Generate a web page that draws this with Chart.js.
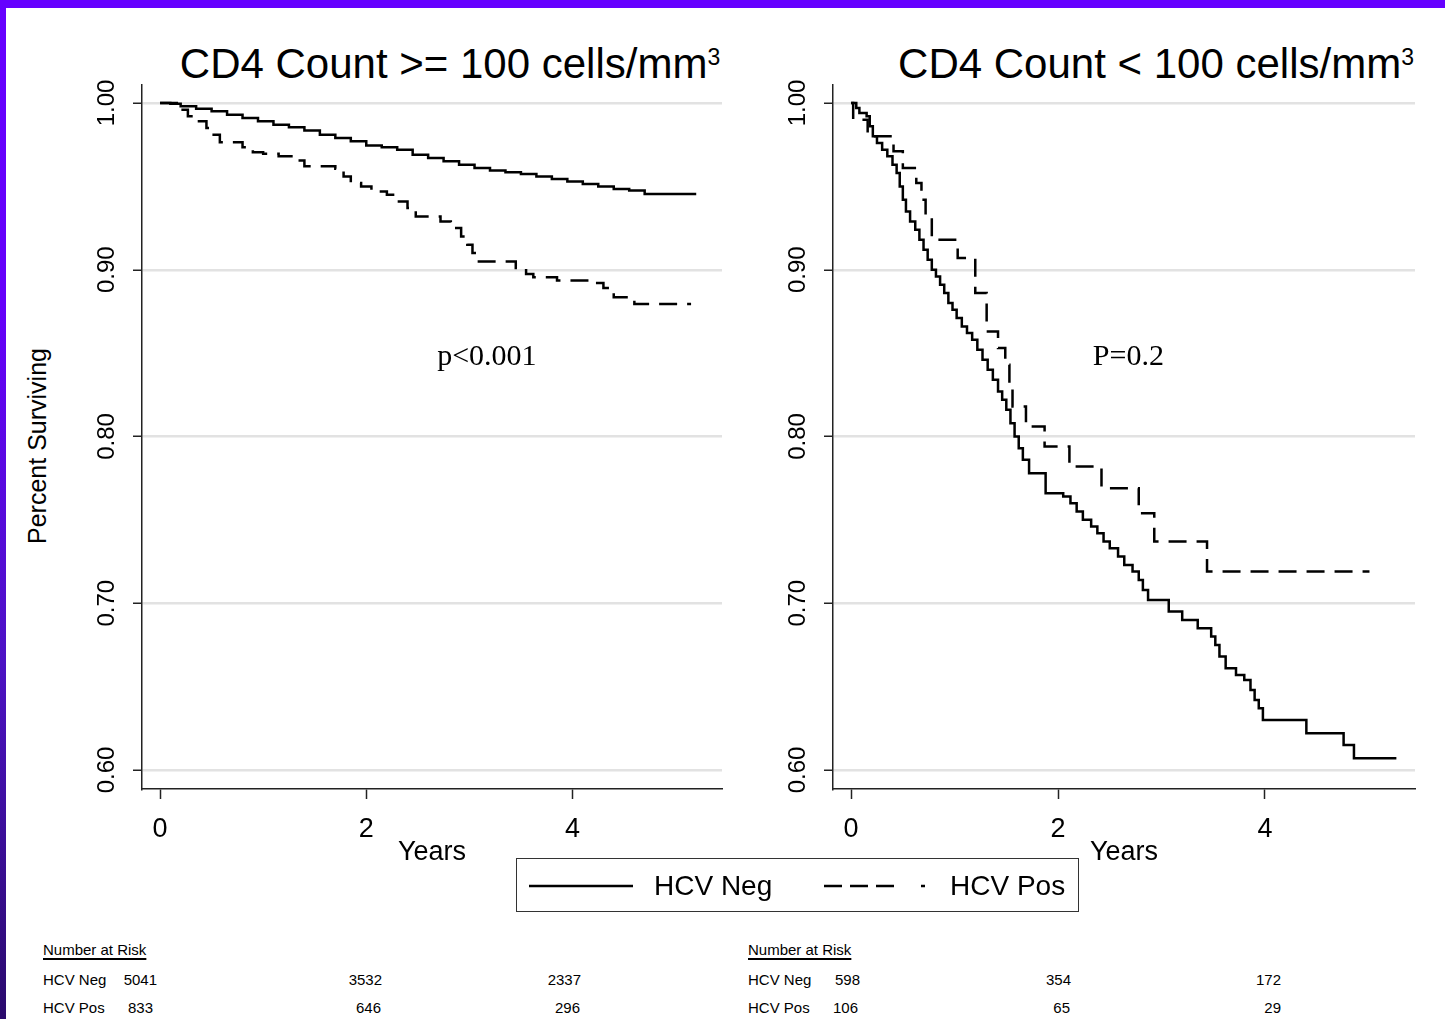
<!DOCTYPE html>
<html>
<head>
<meta charset="utf-8">
<script src="https://cdn.jsdelivr.net/npm/chart.js@4.4.1/dist/chart.umd.min.js"></script>
<style>
  body { margin:0; width:1445px; height:1019px; background:#fff; position:relative; overflow:hidden;
         font-family:"Liberation Sans", Arial, sans-serif; color:#000; }
  #topbar { position:absolute; left:0; top:0; width:1445px; height:8px; background:#6600ff; }
  #leftbar { position:absolute; left:0; top:0; width:6px; height:1019px;
             background:linear-gradient(#6600ff 0%, #6500fa 30%, #4c12c4 65%, #2a0a6c 100%); }
  .abs { position:absolute; white-space:nowrap; }
  .title { font-size:42px; line-height:42px; text-align:center; width:700px; }
  .title span { font-size:23px; position:relative; top:-13px; }
  .risk { font-size:15px; line-height:15px; }
  .num { width:100px; text-align:right; }
  canvas { position:absolute; }
</style>
</head>
<body>
<div id="topbar"></div>
<div id="leftbar"></div>

<div class="abs title" style="left:100px; top:43px;">CD4 Count &gt;= 100 cells/mm<span>3</span></div>
<div class="abs title" style="left:806px; top:43px;">CD4 Count &lt; 100 cells/mm<span>3</span></div>
<div class="abs" style="left:37px; top:446px; font-size:25px; transform:translate(-50%,-50%) rotate(-90deg);">Percent Surviving</div>

<canvas id="leftChart" width="670" height="799" style="left:62px; top:70px;"></canvas>
<canvas id="rightChart" width="672" height="799" style="left:753px; top:70px;"></canvas>

<div class="abs" style="left:516px; top:858px; width:561px; height:52px; border:1.5px solid #333;">
  <svg class="abs" style="left:12px; top:0;" width="110" height="52"><line x1="0" y1="27" x2="104" y2="27" stroke="#000" stroke-width="2.4"/></svg>
  <div class="abs" id="legNeg" style="left:137px; top:11px; font-size:28px; line-height:32px;"></div>
  <svg class="abs" style="left:307px; top:0;" width="110" height="52"><line x1="0" y1="27" x2="101" y2="27" stroke="#000" stroke-width="2.4" stroke-dasharray="18 8 18 8 18 27 4 100"/></svg>
  <div class="abs" id="legPos" style="left:433px; top:11px; font-size:28px; line-height:32px;"></div>
</div>

<div id="tables"></div>

<script>
// survival curves: time in years, proportion surviving
const leftNegTime = [0, 0.1, 0.2, 0.35, 0.5, 0.65, 0.8, 0.95, 1.1, 1.25, 1.4, 1.55, 1.7, 1.85, 2.0, 2.15, 2.3, 2.45, 2.6, 2.75, 2.9, 3.05, 3.2, 3.35, 3.5, 3.65, 3.8, 3.95, 4.1, 4.25, 4.4, 4.55, 4.7, 5.2];
const leftNegSurv = [1.0, 0.9995, 0.998, 0.9965, 0.995, 0.993, 0.991, 0.989, 0.987, 0.9855, 0.9835, 0.981, 0.979, 0.977, 0.9745, 0.9735, 0.972, 0.969, 0.967, 0.965, 0.963, 0.961, 0.9595, 0.9585, 0.9575, 0.956, 0.9545, 0.953, 0.9515, 0.950, 0.9485, 0.9475, 0.9455, 0.9455];

const leftPosTime = [0, 0.2, 0.27, 0.32, 0.45, 0.52, 0.58, 0.8, 0.9, 1.0, 1.15, 1.3, 1.4, 1.7, 1.78, 1.85, 1.95, 2.05, 2.2, 2.3, 2.4, 2.48, 2.72, 2.82, 2.92, 2.98, 3.03, 3.08, 3.45, 3.55, 3.62, 3.85, 4.18, 4.3, 4.4, 4.6, 5.15];
const leftPosSurv = [1.0, 0.996, 0.992, 0.989, 0.985, 0.981, 0.9765, 0.9735, 0.9705, 0.9695, 0.968, 0.9655, 0.962, 0.9605, 0.956, 0.952, 0.950, 0.947, 0.945, 0.941, 0.937, 0.932, 0.929, 0.925, 0.920, 0.915, 0.910, 0.905, 0.901, 0.8975, 0.8955, 0.8935, 0.892, 0.889, 0.8835, 0.8795, 0.8795];

const rightNegTime = [0, 0.05, 0.08, 0.15, 0.18, 0.21, 0.25, 0.3, 0.35, 0.4, 0.44, 0.47, 0.5, 0.53, 0.57, 0.62, 0.66, 0.7, 0.74, 0.78, 0.82, 0.86, 0.9, 0.94, 0.98, 1.02, 1.07, 1.12, 1.17, 1.22, 1.27, 1.32, 1.37, 1.42, 1.46, 1.5, 1.54, 1.58, 1.62, 1.66, 1.72, 1.88, 2.05, 2.12, 2.18, 2.24, 2.32, 2.38, 2.44, 2.5, 2.58, 2.64, 2.72, 2.78, 2.82, 2.87, 3.07, 3.2, 3.35, 3.48, 3.52, 3.56, 3.62, 3.72, 3.8, 3.86, 3.9, 3.94, 3.98, 4.4, 4.76, 4.86, 5.27];
const rightNegSurv = [1.0, 0.997, 0.994, 0.992, 0.986, 0.980, 0.976, 0.972, 0.968, 0.963, 0.958, 0.950, 0.942, 0.935, 0.929, 0.924, 0.918, 0.912, 0.906, 0.900, 0.896, 0.891, 0.886, 0.880, 0.876, 0.871, 0.866, 0.862, 0.858, 0.852, 0.846, 0.840, 0.834, 0.827, 0.822, 0.816, 0.808, 0.800, 0.793, 0.786, 0.778, 0.766, 0.764, 0.760, 0.755, 0.750, 0.746, 0.742, 0.737, 0.733, 0.728, 0.723, 0.719, 0.714, 0.708, 0.702, 0.695, 0.690, 0.685, 0.680, 0.675, 0.668, 0.661, 0.657, 0.654, 0.648, 0.642, 0.637, 0.630, 0.622, 0.615, 0.607, 0.607];

const rightPosTime = [0, 0.02, 0.16, 0.41, 0.5, 0.63, 0.68, 0.72, 0.78, 1.03, 1.2, 1.31, 1.42, 1.49, 1.53, 1.56, 1.69, 1.87, 2.11, 2.42, 2.78, 2.93, 3.44, 5.01];
const rightPosSurv = [1.0, 0.990, 0.980, 0.971, 0.961, 0.952, 0.942, 0.932, 0.918, 0.907, 0.886, 0.863, 0.853, 0.843, 0.830, 0.818, 0.806, 0.794, 0.782, 0.769, 0.754, 0.737, 0.719, 0.719];

const seriesNames = ['HCV Neg', 'HCV Pos'];
const yTicks = [0.6, 0.7, 0.8, 0.9, 1.0];
const yTickLabels = ['0.60', '0.70', '0.80', '0.90', '1.00'];
const xTicks = [0, 2, 4];

// number at risk at years 0, 2, 4
const riskLabels = ['HCV Neg', 'HCV Pos'];
const leftRiskNeg = [5041, 3532, 2337];
const leftRiskPos = [833, 646, 296];
const rightRiskNeg = [598, 354, 172];
const rightRiskPos = [106, 65, 29];

const pLabels = ['p<0.001', 'P=0.2'];

const FONT = '"Liberation Sans", Arial, sans-serif';

document.getElementById('legNeg').textContent = seriesNames[0];
document.getElementById('legPos').textContent = seriesNames[1];

function pts(t, s) {
  return t.map((v, i) => ({ x: v, y: s[i] }));
}

const rotatedYLabels = {
  id: 'rotatedYLabels',
  afterDraw(chart) {
    const ctx = chart.ctx;
    const y = chart.scales.y;
    ctx.save();
    ctx.font = '24px ' + FONT;
    ctx.fillStyle = '#000';
    ctx.textAlign = 'center';
    ctx.textBaseline = 'middle';
    yTicks.forEach((v, i) => {
      ctx.save();
      ctx.translate(chart.chartArea.left - 35, y.getPixelForValue(v));
      ctx.rotate(-Math.PI / 2);
      ctx.fillText(yTickLabels[i], 0, 0);
      ctx.restore();
    });
    ctx.restore();
  }
};

const pValueText = {
  id: 'pValueText',
  afterDatasetsDraw(chart, args, opts) {
    const ctx = chart.ctx;
    ctx.save();
    ctx.font = '30px "Liberation Serif", "Times New Roman", serif';
    ctx.fillStyle = '#000';
    ctx.textAlign = 'center';
    ctx.textBaseline = 'middle';
    ctx.fillText(opts.text, chart.scales.x.getPixelForValue(opts.x), chart.scales.y.getPixelForValue(opts.y));
    ctx.restore();
  }
};

function makeChart(id, negT, negS, posT, posS, pText, pX) {
  return new Chart(document.getElementById(id), {
    type: 'line',
    data: {
      datasets: [
        { label: seriesNames[0], data: pts(negT, negS), borderColor: '#000', borderWidth: 2.5,
          stepped: true, pointRadius: 0, fill: false },
        { label: seriesNames[1], data: pts(posT, posS), borderColor: '#000', borderWidth: 2.5,
          borderDash: [18, 10], stepped: true, pointRadius: 0, fill: false }
      ]
    },
    options: {
      responsive: false,
      devicePixelRatio: 1,
      animation: false,
      layout: { padding: { top: 15, right: 10, left: 0, bottom: 0 } },
      plugins: {
        legend: { display: false },
        tooltip: { enabled: false },
        pValueText: { text: pText, x: pX, y: 0.8477 }
      },
      scales: {
        x: {
          type: 'linear',
          min: -0.175, max: 5.45,
          afterBuildTicks: s => { s.ticks = xTicks.map(v => ({ value: v })); },
          afterFit: s => { s.height = 80; },
          grid: { drawOnChartArea: false, drawTicks: true, tickLength: 10, tickColor: '#222', tickWidth: 1.5 },
          border: { display: true, color: '#222', width: 1.5 },
          ticks: { font: { size: 27, family: FONT }, color: '#000', padding: 14, maxRotation: 0 },
          title: { display: true, text: 'Years', font: { size: 27, family: FONT }, color: '#000', padding: { top: 0, bottom: 0 } }
        },
        y: {
          type: 'linear',
          min: 0.5886, max: 1.0108,
          afterBuildTicks: s => { s.ticks = yTicks.map(v => ({ value: v })); },
          afterFit: s => { s.width = 80; },
          grid: { color: '#e2e2e2', lineWidth: 2.5, drawTicks: true, tickLength: 9, tickColor: '#222', tickWidth: 1.5 },
          border: { display: true, color: '#222', width: 1.5 },
          ticks: { display: false }
        }
      }
    },
    plugins: [rotatedYLabels, pValueText]
  });
}

makeChart('leftChart', leftNegTime, leftNegSurv, leftPosTime, leftPosSurv, pLabels[0], 3.17);
makeChart('rightChart', rightNegTime, rightNegSurv, rightPosTime, rightPosSurv, pLabels[1], 2.68);

// number at risk tables
function riskTable(left, colEdges, negVals, posVals) {
  let html = '<div class="abs risk" style="left:' + left + 'px; top:942px; text-decoration:underline; text-decoration-thickness:2px; text-underline-offset:3px;">Number at Risk</div>';
  [negVals, posVals].forEach((vals, r) => {
    const top = 972 + r * 28;
    html += '<div class="abs risk" style="left:' + left + 'px; top:' + top + 'px;">' + riskLabels[r] + '</div>';
    vals.forEach((v, c) => {
      html += '<div class="abs risk num" style="left:' + (colEdges[r][c] - 100) + 'px; top:' + top + 'px;">' + v + '</div>';
    });
  });
  return html;
}
document.getElementById('tables').innerHTML =
  riskTable(43, [[157, 382, 581], [153, 381, 580]], leftRiskNeg, leftRiskPos) +
  riskTable(748, [[860, 1071, 1281], [858, 1070, 1281]], rightRiskNeg, rightRiskPos);
</script>
</body>
</html>
